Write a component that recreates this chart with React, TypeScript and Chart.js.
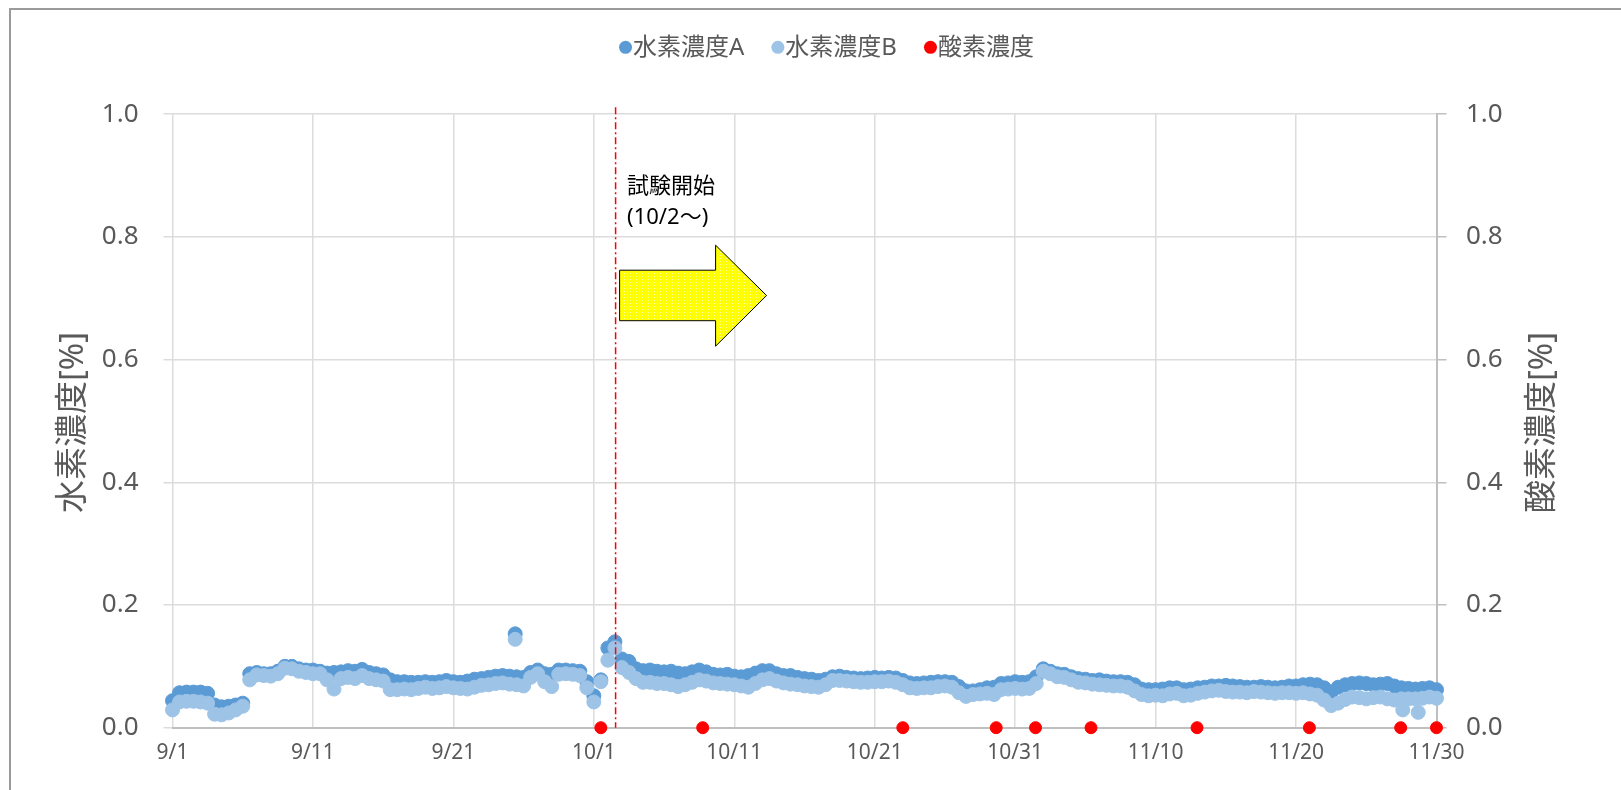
import { useEffect, useRef } from 'react';
import { Chart, registerables } from 'chart.js';

Chart.register(...registerables);

const FONT = "'Noto Sans', 'Noto Sans CJK JP', sans-serif";
const TEXT = '#595959';

// x axis: days counted from 9/1, labelled every 10 days
const dateTicks = ['9/1', '9/11', '9/21', '10/1', '10/11', '10/21', '10/31', '11/10', '11/20', '11/30'];

// hydrogen readings, one every 12 hours from 9/1 00:00
const SAMPLE_STEP = 0.5;

const hydrogenA = [
  0.044, 0.057, 0.058, 0.058, 0.058, 0.056, 0.037, 0.034, 0.035, 0.037,
  0.040, 0.088, 0.090, 0.088, 0.088, 0.092, 0.100, 0.100, 0.096, 0.094,
  0.094, 0.092, 0.089, 0.090, 0.091, 0.093, 0.092, 0.095, 0.090, 0.088,
  0.086, 0.078, 0.075, 0.075, 0.074, 0.074, 0.075, 0.074, 0.075, 0.077,
  0.075, 0.074, 0.076, 0.079, 0.080, 0.082, 0.084, 0.085, 0.084, 0.083,
  0.082, 0.090, 0.094, 0.088, 0.087, 0.094, 0.094, 0.093, 0.092, 0.075,
  0.052, 0.078, 0.130, 0.140, 0.112, 0.108, 0.096, 0.093, 0.094, 0.092,
  0.091, 0.092, 0.089, 0.088, 0.091, 0.094, 0.091, 0.087, 0.086, 0.087,
  0.084, 0.083, 0.085, 0.089, 0.093, 0.093, 0.088, 0.085, 0.085, 0.082,
  0.080, 0.079, 0.077, 0.079, 0.083, 0.084, 0.082, 0.081, 0.080, 0.081,
  0.082, 0.081, 0.082, 0.081, 0.077, 0.073, 0.072, 0.073, 0.074, 0.075,
  0.075, 0.074, 0.067, 0.060, 0.060, 0.062, 0.065, 0.066, 0.072, 0.073,
  0.075, 0.074, 0.075, 0.083, 0.096, 0.092, 0.088, 0.087, 0.083, 0.080,
  0.079, 0.077, 0.078, 0.076, 0.075, 0.075, 0.074, 0.070, 0.063, 0.062,
  0.062, 0.063, 0.065, 0.065, 0.062, 0.063, 0.065, 0.066, 0.068, 0.068,
  0.069, 0.068, 0.067, 0.066, 0.066, 0.067, 0.066, 0.065, 0.066, 0.068,
  0.068, 0.070, 0.071, 0.070, 0.065, 0.058, 0.066, 0.070, 0.072, 0.073,
  0.072, 0.070, 0.071, 0.072, 0.068, 0.065, 0.064, 0.063, 0.064, 0.065,
  0.062,
];

const hydrogenB = [
  0.029, 0.042, 0.043, 0.043, 0.042, 0.040, 0.022, 0.021, 0.024, 0.029,
  0.035, 0.078, 0.086, 0.085, 0.084, 0.088, 0.097, 0.096, 0.092, 0.090,
  0.088, 0.088, 0.078, 0.063, 0.080, 0.082, 0.080, 0.085, 0.080, 0.078,
  0.076, 0.062, 0.062, 0.063, 0.062, 0.064, 0.066, 0.064, 0.065, 0.067,
  0.065, 0.064, 0.063, 0.066, 0.069, 0.070, 0.072, 0.073, 0.071, 0.070,
  0.068, 0.082, 0.088, 0.075, 0.067, 0.087, 0.088, 0.087, 0.085, 0.065,
  0.042, 0.075, 0.110, 0.130, 0.098, 0.090, 0.080, 0.074, 0.074, 0.072,
  0.072, 0.070, 0.067, 0.070, 0.074, 0.078, 0.076, 0.073, 0.072, 0.071,
  0.070, 0.068, 0.066, 0.072, 0.078, 0.080, 0.076, 0.073, 0.071, 0.070,
  0.068, 0.067, 0.066, 0.070, 0.077, 0.077, 0.076, 0.075, 0.074, 0.074,
  0.075, 0.075, 0.076, 0.074, 0.070, 0.065, 0.064, 0.065, 0.065, 0.067,
  0.068, 0.066, 0.057, 0.051, 0.054, 0.055, 0.056, 0.054, 0.062, 0.063,
  0.064, 0.063, 0.064, 0.072, 0.092, 0.088, 0.083, 0.082, 0.078, 0.074,
  0.073, 0.071, 0.070, 0.069, 0.068, 0.068, 0.066, 0.060, 0.054, 0.052,
  0.053, 0.052, 0.055, 0.056, 0.052, 0.053, 0.056, 0.058, 0.060, 0.061,
  0.059, 0.058, 0.058, 0.057, 0.059, 0.058, 0.057, 0.056, 0.057, 0.057,
  0.056, 0.057, 0.055, 0.053, 0.045, 0.036, 0.040, 0.046, 0.050, 0.049,
  0.047, 0.049, 0.050, 0.047, 0.045, 0.047, 0.047, 0.047, 0.048, 0.050,
  0.048,
];

// isolated readings between the regular samples
const spikeDaysA = [24.4];
const spikeA = [0.153];
const spikeDaysB = [24.4, 87.6, 88.7];
const spikeB = [0.144, 0.029, 0.025];

// oxygen checks (right axis)
const oxygenDays = [30.5, 37.75, 52.0, 58.65, 61.45, 65.4, 72.95, 80.95, 87.45, 90.0];
const oxygen = [0, 0, 0, 0, 0, 0, 0, 0, 0, 0];

const testStartDay = 31.55;
const testStartText = ['試験開始', '(10/2〜)'];
const leftTitle = '水素濃度[%]';
const rightTitle = '酸素濃度[%]';

const sampled = (vals: number[], step: number) => vals.map((y, i) => ({ x: i * step, y }));
const paired = (days: number[], vals: number[]) => days.map((x, i) => ({ x, y: vals[i] }));

let arrowPattern: CanvasPattern | null = null;
function getArrowPattern(ctx: CanvasRenderingContext2D) {
  if (arrowPattern) return arrowPattern;
  const tile = document.createElement('canvas');
  tile.width = 3;
  tile.height = 3;
  const t = tile.getContext('2d')!;
  t.fillStyle = '#ffff00';
  t.fillRect(0, 0, 3, 3);
  t.fillStyle = '#ffffa8';
  t.fillRect(0, 0, 1, 1);
  arrowPattern = ctx.createPattern(tile, 'repeat');
  return arrowPattern;
}

const overlayPlugin = {
  id: 'testStartOverlay',
  afterDatasetsDraw(chart: any) {
    const { ctx, chartArea, scales } = chart;
    const x = scales.x.getPixelForValue(testStartDay);
    const top = chartArea.top;
    ctx.save();
    // start-of-test marker line
    ctx.strokeStyle = '#ff0000';
    ctx.lineWidth = 1.5;
    ctx.setLineDash([7, 3, 2, 3]);
    ctx.beginPath();
    ctx.moveTo(x, top - 7);
    ctx.lineTo(x, chartArea.bottom);
    ctx.stroke();
    ctx.setLineDash([]);

    // block arrow
    const L = x + 4;
    const B = x + 100;
    const T = x + 151;
    ctx.beginPath();
    ctx.moveTo(L, top + 156);
    ctx.lineTo(B, top + 156);
    ctx.lineTo(B, top + 131);
    ctx.lineTo(T, top + 181.3);
    ctx.lineTo(B, top + 232);
    ctx.lineTo(B, top + 206.5);
    ctx.lineTo(L, top + 206.5);
    ctx.closePath();
    ctx.fillStyle = getArrowPattern(ctx) || '#ffff00';
    ctx.fill();
    ctx.strokeStyle = '#000';
    ctx.lineWidth = 1;
    ctx.stroke();

    ctx.fillStyle = '#000';
    ctx.font = `22px ${FONT}`;
    ctx.textAlign = 'left';
    ctx.textBaseline = 'middle';
    ctx.fillText(testStartText[0], x + 11.5, top + 72.5);
    ctx.fillText(testStartText[1], x + 11.5, top + 104);
    ctx.restore();
  },
};

const decorPlugin = {
  id: 'legendAndTitles',
  afterDraw(chart: any) {
    const { ctx, chartArea } = chart;
    ctx.save();
    // legend
    ctx.font = `24px ${FONT}`;
    ctx.textBaseline = 'middle';
    ctx.textAlign = 'left';
    const r = 6.5;
    const items = chart.data.datasets.map((ds: any) => ({
      label: ds.label as string,
      color: ds.backgroundColor as string,
      w: ctx.measureText(ds.label).width,
    }));
    const gapText = 1;
    const gapItem = 27;
    let total = 0;
    items.forEach((it: any, i: number) => {
      total += 2 * r + gapText + it.w + (i < items.length - 1 ? gapItem : 0);
    });
    let cx = 826.5 - total / 2;
    const ly = 47.3;
    items.forEach((it: any) => {
      ctx.fillStyle = it.color;
      ctx.beginPath();
      ctx.arc(cx + r, ly, r, 0, Math.PI * 2);
      ctx.fill();
      ctx.fillStyle = TEXT;
      ctx.fillText(it.label, cx + 2 * r + gapText, ly + 0.5);
      cx += 2 * r + gapText + it.w + gapItem;
    });

    // axis titles, both reading bottom to top
    const midY = (chartArea.top + chartArea.bottom) / 2 + 1.5;
    ctx.font = `33px ${FONT}`;
    ctx.fillStyle = TEXT;
    ctx.textAlign = 'center';
    [[74, leftTitle], [1543, rightTitle]].forEach(([px, text]) => {
      ctx.save();
      ctx.translate(px as number, midY);
      ctx.rotate(-Math.PI / 2);
      ctx.fillText(text as string, 0, 0);
      ctx.restore();
    });
    ctx.restore();
  },
};

const PLOT_LEFT = 172.5;
const PLOT_RIGHT = 1436.5;
const PLOT_TOP = 114.2;
const PLOT_BOTTOM = 727.7;
const W = 1621;
const H = 790;

export default function App() {
  const ref = useRef<HTMLCanvasElement>(null);

  useEffect(() => {
    const pointStyle = (color: string, order: number, radius: number) => ({
      backgroundColor: color,
      borderColor: color,
      pointBackgroundColor: color,
      pointBorderColor: color,
      pointBorderWidth: 1,
      pointRadius: radius,
      pointHoverRadius: radius,
      showLine: false,
      clip: false as const,
      order,
    });

    const chart = new Chart(ref.current!, {
      type: 'scatter',
      data: {
        datasets: [
          {
            label: '水素濃度A',
            data: [...sampled(hydrogenA, SAMPLE_STEP), ...paired(spikeDaysA, spikeA)],
            yAxisID: 'y',
            ...pointStyle('#5b9bd5', 3, 7),
          },
          {
            label: '水素濃度B',
            data: [...sampled(hydrogenB, SAMPLE_STEP), ...paired(spikeDaysB, spikeB)],
            yAxisID: 'y',
            ...pointStyle('#9dc3e6', 2, 7),
          },
          {
            label: '酸素濃度',
            data: paired(oxygenDays, oxygen),
            yAxisID: 'y2',
            ...pointStyle('#ff0000', 1, 6),
          },
        ],
      },
      options: {
        responsive: false,
        devicePixelRatio: 1,
        animation: false,
        events: [],
        layout: { autoPadding: false, padding: { top: PLOT_TOP, left: 0, right: 0, bottom: 0 } },
        plugins: { legend: { display: false }, tooltip: { enabled: false } },
        scales: {
          x: {
            type: 'linear',
            min: 0,
            max: 90,
            afterFit: (s: any) => { s.height = H - PLOT_BOTTOM; },
            grid: { color: '#dcdcdc', lineWidth: 1.5, drawTicks: false },
            border: { color: '#bfbfbf', width: 2 },
            ticks: {
              stepSize: 10,
              autoSkip: false,
              maxRotation: 0,
              padding: 13,
              color: TEXT,
              font: { family: FONT, size: 21 },
              callback: (v: any) => dateTicks[Math.round(Number(v) / 10)] ?? '',
            },
          },
          y: {
            position: 'left',
            min: 0,
            max: 1,
            afterFit: (s: any) => { s.width = PLOT_LEFT; },
            grid: { color: '#dcdcdc', lineWidth: 1.5, tickLength: 9 },
            border: { display: false },
            ticks: {
              stepSize: 0.2,
              padding: 25,
              color: TEXT,
              font: { family: FONT, size: 26 },
              callback: (v: any) => Number(v).toFixed(1),
            },
          },
          y2: {
            position: 'right',
            min: 0,
            max: 1,
            afterFit: (s: any) => { s.width = W - PLOT_RIGHT; },
            grid: { drawOnChartArea: false, color: '#bfbfbf', lineWidth: 1.5, tickLength: 10 },
            border: { color: '#bfbfbf', width: 2 },
            ticks: {
              stepSize: 0.2,
              padding: 19.5,
              color: TEXT,
              font: { family: FONT, size: 26 },
              callback: (v: any) => Number(v).toFixed(1),
            },
          },
        },
      },
      plugins: [overlayPlugin, decorPlugin],
    } as any);

    return () => chart.destroy();
  }, []);

  return (
    <div style={{ position: 'fixed', left: 0, top: 0, width: W, height: H, overflow: 'hidden', background: '#fff' }}>
      <div
        style={{
          position: 'absolute',
          left: 9,
          top: 8,
          width: 1700,
          height: 900,
          border: '2px solid #9a9a9a',
          boxSizing: 'border-box',
        }}
      />
      <canvas
        ref={ref}
        width={W}
        height={H}
        style={{ position: 'absolute', left: 0, top: 0, width: W, height: H }}
      />
    </div>
  );
}
